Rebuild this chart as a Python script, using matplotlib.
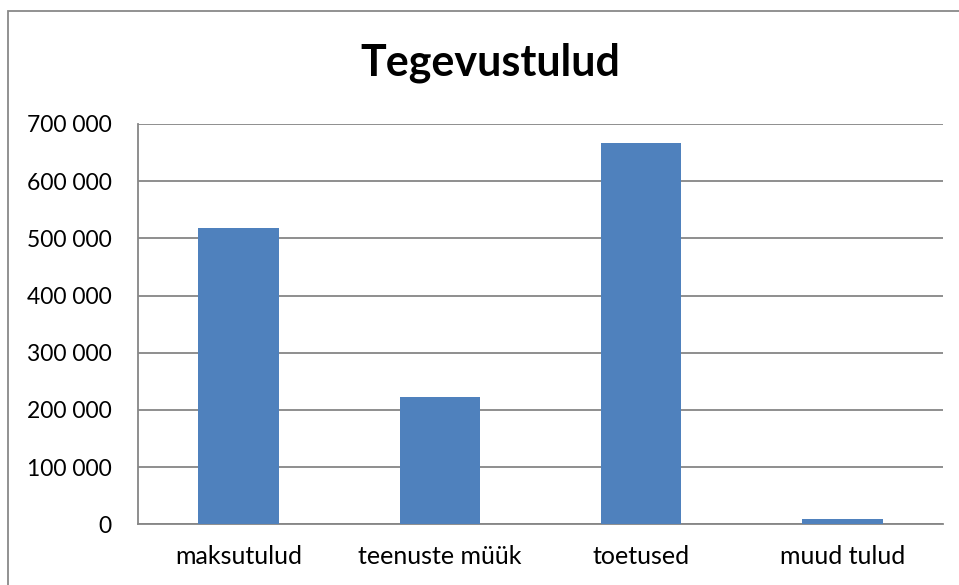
import numpy as np
import matplotlib.pyplot as plt
from matplotlib.patches import Rectangle


CATEGORIES = ["maksutulud", "teenuste müük", "toetused", "muud tulud"]
VALUES = [518000, 223000, 666000, 9000]
Y_TICKS = [0, 100000, 200000, 300000, 400000, 500000, 600000, 700000]

BAR_COLOR = "#4f81bd"
GRID_COLOR = "#868686"

plt.rcParams['font.family'] = ['Lato', 'DejaVu Sans']

W, H = 959, 585
fig = plt.figure(figsize=(W / 100, H / 100), dpi=100)

# outer chart border (cropped at right and bottom in the reference)
fig.patches.append(Rectangle((8 / W, -0.1), 2.0, (H - 11) / H + 0.1,
                             transform=fig.transFigure, fill=False,
                             edgecolor="#898989", linewidth=1.3))

left, right, top, bottom = 138, 943, 124, 524.4
ax = fig.add_axes([left / W, 1 - bottom / H, (right - left) / W, (bottom - top) / H])

x = np.arange(len(CATEGORIES))
ax.bar(x, VALUES, width=0.4, color=BAR_COLOR, zorder=3)

ax.set_xlim(-0.5, len(CATEGORIES) - 0.5)
ax.set_ylim(0, 700000)
ax.set_yticks(Y_TICKS)
ax.set_yticklabels([f"{v:,}".replace(",", " ") for v in Y_TICKS], fontsize=16.5)
ax.set_xticks(x)
ax.set_xticklabels(CATEGORIES, fontsize=18)
ax.tick_params(axis="y", length=0, pad=19)
ax.tick_params(axis="x", length=0, pad=15)

ax.grid(axis="y", color=GRID_COLOR, linewidth=1.3, zorder=0)
for side in ["top", "right"]:
    ax.spines[side].set_visible(False)
for side in ["left", "bottom"]:
    ax.spines[side].set_color(GRID_COLOR)
    ax.spines[side].set_linewidth(1.3)

fig.text(490 / W, 1 - 63 / H, "Tegevustulud", ha="center", va="center",
         fontsize=31, fontweight="bold")

fig.savefig("out.png", dpi=100)
